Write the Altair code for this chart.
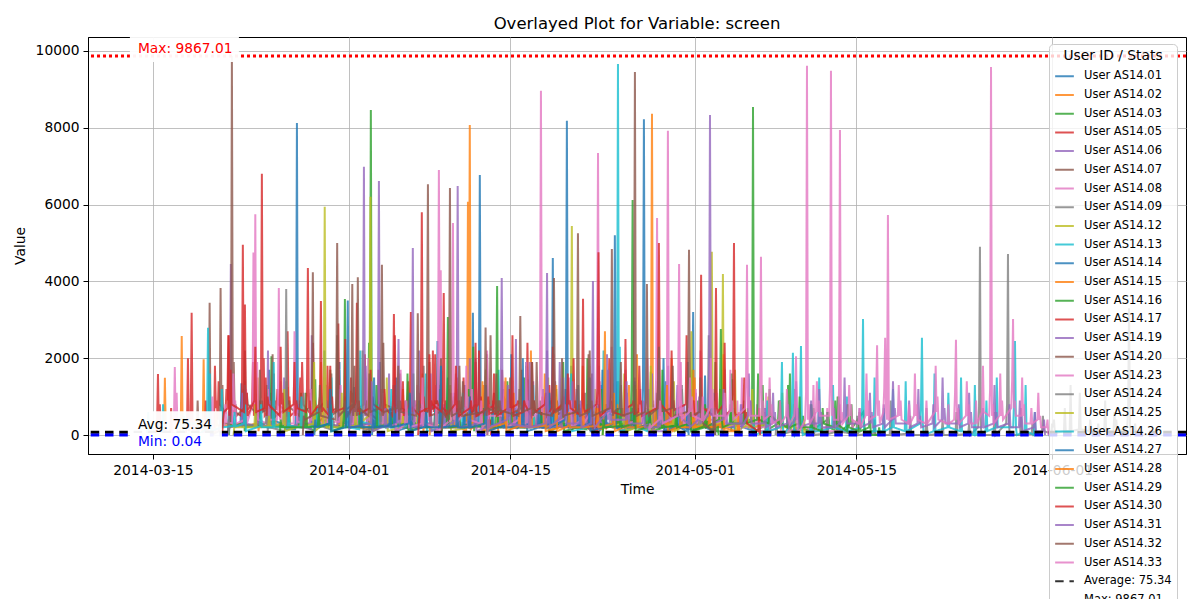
import altair as alt
import pandas as pd

# each user is a list of sample runs: (start day counted from 2014-03-14 00:00 UTC, [values every STEP days])
STEP = 0.08

as14_01 = [(7.5, [0, 620, 180, 300, 240]), (8.6, [300, 1350, 200, 700, 260]), (9.9, [250, 900, 360]),
           (11.0, [200, 1700, 300, 1100, 400]), (12.3, [280, 600, 150]), (13.33, [150, 700, 8120, 350, 400, 250]),
           (14.6, [300, 1100, 240, 500, 220]), (15.8, [460, 2200, 350, 900, 300]), (17.1, [220, 1900, 300]),
           (18.2, [350, 800, 260, 1250, 220]), (19.6, [300, 600, 130]), (20.6, [240, 1900, 240, 700, 380]),
           (22.0, [260, 1500, 160]), (23.2, [300, 1050, 300, 500, 230]), (24.6, [290, 700, 300]),
           (25.6, [290, 2450, 290, 1300, 200]), (27.0, [250, 800, 300]), (28.0, [200, 1300, 300, 400, 250]),
           (28.59, [200, 500, 3180, 200]), (29.8, [250, 1700, 250, 600, 220]), (31.2, [300, 900, 240]),
           (32.0, [260, 2100, 260, 800, 230]), (33.4, [230, 1450, 230]), (34.6, [300, 700, 200, 1200, 250]),
           (36.0, [280, 500, 240]), (37.2, [320, 1800, 120, 600, 200]), (38.6, [250, 800, 260]),
           (39.6, [200, 950, 100, 1300, 280]), (41.2, [180, 1400, 180]), (42.5, [260, 700, 220, 900, 240]),
           (44.6, [220, 1100, 220, 500, 200]), (46.0, [260, 800, 240]), (47.69, [150, 600, 3200, 150]),
           (48.8, [260, 1550, 260, 700, 220]), (50.3, [300, 900, 230]), (51.3, [200, 700, 100, 400, 260]),
           (52.9, [130, 420, 0])]
as14_02 = [(1.88, [0, 100, 1490, 60, 0]), (3.34, [0, 300, 2580, 90, 0]), (4.5, [0, 400, 0]),
           (5.24, [50, 150, 1970, 150, 0]), (6.4, [100, 600, 250]), (7.6, [250, 1100, 200, 600, 300]),
           (8.9, [280, 900, 240]), (10.0, [300, 1500, 100, 400, 200]), (11.5, [260, 750, 200]),
           (12.6, [230, 1250, 280, 900, 220]), (14.2, [300, 600, 220]), (15.5, [300, 1900, 300, 700, 250]),
           (17.0, [240, 800, 260]), (18.1, [240, 1150, 240, 500, 210]), (19.7, [150, 2000, 150]),
           (21.0, [220, 600, 300, 800, 220]), (22.6, [250, 1200, 240]), (24.3, [300, 1600, 100, 500, 200]),
           (26.0, [230, 900, 200]), (27.2, [200, 700, 260]), (28.16, [100, 500, 6070, 900, 8070, 120, 300, 200]),
           (29.6, [200, 1300, 100, 600, 220]), (30.8, [200, 500, 0])]
as14_03 = [(7.6, [0, 600, 240]), (8.8, [300, 1200, 100, 500, 200]), (10.2, [260, 900, 230]),
           (11.2, [200, 2050, 200, 800, 240]), (12.7, [230, 600, 210]), (13.6, [230, 800, 230, 1100, 260]),
           (15.0, [120, 1450, 320]), (16.2, [200, 500, 240, 700, 200]), (17.6, [250, 1000, 220]),
           (18.7, [300, 700, 240]), (19.66, [300, 2400, 600, 8460, 300, 100]), (20.9, [250, 1100, 250, 600, 200]),
           (22.3, [230, 800, 220]), (23.5, [150, 1600, 350, 400, 220]), (25.0, [240, 700, 200]),
           (25.9, [200, 1350, 100, 500, 240]), (27.4, [260, 900, 230]), (28.7, [300, 2300, 100, 700, 220]),
           (30.3, [240, 600, 200]), (31.5, [240, 950, 240, 1400, 260]), (33.3, [200, 1800, 200]),
           (34.7, [220, 700, 240, 500, 200]), (35.9, [200, 1200, 200]), (37.2, [250, 800, 230, 600, 200]),
           (38.6, [150, 2000, 350]), (40.0, [230, 700, 200, 500, 240]), (41.2, [230, 900, 230]),
           (42.8, [280, 1200, 230, 600, 200]), (44.1, [300, 1650, 100]), (45.6, [220, 800, 240, 700, 200]),
           (46.8, [200, 1200, 200]), (48.2, [300, 900, 230, 500, 220]), (49.7, [200, 1900, 200]),
           (51.0, [260, 800, 100, 1450, 300]), (52.88, [400, 900, 8540, 400, 100]), (53.8, [200, 1300, 200, 600, 100]),
           (55.2, [300, 900, 300]), (56.0, [200, 600, 100, 1600, 100]), (57.3, [200, 500, 150]),
           (58.2, [100, 700, 400, 300, 200]), (59.5, [400, 600, 200]), (60.3, [100, 1000, 300, 500, 100]),
           (61.5, [300, 800, 200]), (62.6, [600, 300, 100]), (63.6, [100, 0])]
as14_05 = [(1.2, [0, 100, 300, 1590, 100, 800, 0]), (2.5, [0, 700, 50]),
           (3.8, [0, 100, 300, 2000, 100, 200, 400, 3180, 200, 0]), (5.5, [0, 900, 0]),
           (6.3, [200, 1800, 700, 900, 400, 1400, 800]), (7.3, [600, 1200, 900, 2600, 500, 800, 650]),
           (8.64, [500, 900, 4950, 700, 1400, 600]), (9.6, [800, 1900, 500, 900, 700]),
           (10.29, [600, 1100, 6800, 600, 2000, 500]), (11.4, [750, 1600, 450, 900, 650, 1200, 800]),
           (12.6, [600, 2700, 800, 1000, 500]), (13.7, [700, 1500, 500, 1900, 800]),
           (14.8, [500, 2400, 700, 900, 650]), (15.9, [850, 1300, 450, 1800, 600]),
           (17.0, [700, 2900, 500, 900, 730]), (18.1, [550, 1500, 850, 1100, 600]),
           (19.3, [800, 2100, 500, 800, 600]), (20.5, [400, 1700, 900, 1200, 560]), (21.9, [700, 2600, 800]),
           (22.9, [550, 900, 700, 1400, 650]), (24.0, [800, 1100, 450]), (25.2, [700, 2200, 600, 900, 800]),
           (26.6, [500, 1200, 700]), (27.7, [600, 1000, 540, 1500, 760]), (28.9, [500, 1900, 600]),
           (30.0, [450, 900, 300, 400, 0])]
as14_06 = [(7.52, [0, 300, 800, 4450, 300, 500, 250]), (8.7, [250, 1100, 250, 600, 300]), (10.0, [240, 700, 320]),
           (10.9, [200, 2200, 400, 900, 260]), (12.3, [300, 1500, 200]), (13.5, [260, 800, 300, 600, 220]),
           (14.7, [150, 2600, 350]), (15.9, [230, 900, 250, 700, 300]), (17.0, [240, 1200, 340]),
           (18.2, [300, 700, 280]), (19.14, [500, 1200, 6980, 500, 1800, 300]), (20.44, [300, 900, 6610, 400, 300]),
           (21.4, [300, 1600, 300, 700, 220]), (22.8, [240, 900, 260]), (24.0, [250, 2200, 250, 800, 230]),
           (25.5, [300, 1300, 200]), (26.9, [260, 700, 250, 1100, 300]), (28.4, [200, 2000, 400]),
           (29.7, [260, 1100, 260, 600, 220]), (31.2, [300, 800, 240]), (32.4, [350, 2500, 150, 700, 300]),
           (33.9, [240, 1400, 240]), (35.2, [250, 600, 280, 900, 220]), (36.2, [300, 1900, 300]),
           (37.5, [220, 700, 240, 1200, 250]), (38.9, [300, 800, 200]), (40.3, [200, 2100, 400, 900, 240]),
           (41.8, [230, 600, 300]), (42.7, [200, 1500, 300, 700, 230]), (44.3, [250, 900, 220]),
           (45.6, [350, 1800, 150, 600, 300]), (47.0, [260, 800, 240]), (48.0, [240, 1100, 240, 500, 220]),
           (49.6, [300, 700, 250]), (50.5, [200, 1700, 400, 600, 200]), (52.0, [260, 800, 230]),
           (52.8, [200, 900, 100]), (54.4, [100, 600, 0])]
as14_07 = [(4.8, [0, 900, 50]), (5.76, [50, 200, 3440, 200, 0]), (6.71, [100, 300, 3830, 300, 1300, 300]),
           (7.69, [300, 600, 9867.01, 800, 1900, 600, 800, 500]), (8.9, [700, 2200, 500, 1100, 800]),
           (10.2, [500, 1700, 700, 900, 600]), (11.3, [750, 2100, 450]), (12.5, [680, 1400, 480, 900, 740]),
           (13.7, [500, 900, 640]), (14.71, [700, 1000, 4240, 500, 800, 600]), (15.8, [800, 1500, 400]),
           (16.9, [600, 2600, 700, 900, 550]), (18.4, [800, 1800, 500]), (19.5, [660, 900, 540, 1300, 730]),
           (20.9, [500, 2400, 800]), (22.2, [650, 900, 500, 1600, 700]), (23.6, [540, 900, 700]),
           (24.9, [600, 1900, 500, 800, 730]), (26.3, [550, 900, 720]), (27.3, [500, 1200, 800, 900, 600]),
           (28.7, [740, 900, 560]), (30.2, [600, 2600, 700, 900, 520]), (31.7, [750, 900, 500]),
           (32.9, [650, 1700, 450, 800, 710]), (34.5, [580, 900, 630]), (35.8, [500, 1400, 700, 900, 540]),
           (37.3, [700, 800, 520]), (38.7, [650, 2100, 450, 900, 600]), (40.2, [540, 800, 720]),
           (41.5, [600, 1300, 500, 700, 410]), (43.0, [340, 700, 200]), (44.3, [100, 800, 0])]
as14_08 = [(2.66, [0, 150, 300, 1770, 150, 1100, 0]), (4.5, [0, 400, 0]), (6.0, [100, 500, 1000, 100]),
           (7.2, [250, 800, 340]), (7.9, [300, 1600, 500, 900, 300]), (9.0, [400, 1200, 300]),
           (9.64, [800, 4750, 800, 5750, 600, 1900, 400]), (10.9, [300, 1200, 400]),
           (11.76, [400, 900, 3830, 400, 1400, 300]), (13.2, [300, 2700, 500, 800, 350]), (14.6, [300, 1200, 400]),
           (15.8, [300, 1800, 400, 600, 330]), (17.2, [350, 1300, 250]), (18.4, [300, 700, 340, 900, 300]),
           (19.6, [200, 2000, 400]), (20.9, [300, 1100, 300, 600, 340]), (22.4, [350, 1700, 350]),
           (23.7, [360, 900, 340, 1300, 320]), (24.9, [400, 700, 300]),
           (25.64, [300, 1200, 6900, 1200, 4290, 300, 800, 300]), (27.2, [300, 1600, 400, 500, 300]),
           (28.6, [340, 1200, 200]), (29.4, [200, 500, 0])]
as14_09 = [(7.5, [0, 400, 200]), (8.9, [250, 900, 250]), (10.8, [300, 1300, 100, 500, 200]),
           (12.4, [100, 200, 3800, 200, 200]), (14.0, [200, 1100, 300]), (15.3, [220, 700, 240]),
           (16.4, [150, 1600, 350, 400, 200]), (18.0, [230, 600, 200]), (19.1, [300, 2200, 100]),
           (20.6, [250, 800, 230]), (21.8, [200, 1300, 200, 400, 220]), (23.3, [240, 700, 200]),
           (24.4, [200, 1800, 200]), (25.9, [230, 600, 230]), (27.0, [250, 1000, 250, 700, 200]),
           (28.6, [260, 500, 200]), (29.8, [300, 1500, 100]), (31.4, [240, 800, 200]),
           (32.7, [200, 1200, 200, 500, 230]), (34.3, [250, 700, 200]), (35.7, [150, 1700, 350]),
           (37.2, [240, 600, 240]), (38.4, [200, 1100, 200, 400, 200]), (40.0, [230, 800, 220]),
           (41.3, [300, 1400, 100]), (42.8, [250, 600, 200]), (44.1, [200, 1000, 200, 500, 220]),
           (45.5, [240, 700, 200]), (46.8, [260, 1300, 260]), (48.1, [230, 500, 200]),
           (49.04, [200, 600, 2600, 200, 100]), (50.3, [100, 300, 0])]
as14_12 = [(8.0, [0, 300, 200]), (9.8, [200, 800, 200]), (11.0, [230, 500, 230]), (12.3, [300, 1200, 100]),
           (13.8, [240, 700, 200]), (14.9, [300, 1900, 100]), (15.74, [300, 900, 5940, 300, 200]),
           (17.3, [200, 1100, 200]), (18.5, [240, 600, 220]), (19.71, [500, 1500, 6200, 500, 100]),
           (21.2, [300, 1500, 100]), (22.6, [220, 500, 200]), (23.9, [200, 900, 200]), (25.4, [230, 700, 240]),
           (26.7, [300, 1300, 100]), (28.3, [200, 500, 200]), (29.8, [250, 1700, 250]), (31.5, [220, 600, 200]),
           (32.8, [200, 1000, 200]), (34.0, [240, 500, 200]), (35.2, [300, 1500, 100]), (36.4, [230, 700, 200]),
           (37.17, [300, 900, 5440, 300, 200]), (38.5, [200, 600, 200]), (39.3, [200, 1200, 200]),
           (40.7, [250, 500, 200]), (41.8, [300, 1600, 100]), (43.2, [220, 600, 200]), (44.3, [100, 700, 0])]
as14_13 = [(-0.3, [0, 100, 0]), (0.44, [0, 150, 600, 0]), (1.8, [0, 800, 0]), (3.6, [0, 500, 300]),
           (4.8, [300, 0]), (5.62, [150, 500, 2790, 150, 1600, 100]), (6.9, [200, 1200, 200]), (8.0, [240, 600, 220]),
           (8.9, [300, 1300, 100]), (10.3, [230, 800, 200]), (11.4, [200, 1900, 200]), (12.7, [200, 600, 240]),
           (13.8, [200, 1000, 200]), (15.2, [230, 700, 220]), (16.4, [300, 1500, 100]), (17.8, [240, 600, 200]),
           (18.9, [150, 2200, 350]), (20.4, [230, 800, 200]), (21.6, [200, 1200, 200]), (23.0, [240, 600, 220]),
           (24.6, [300, 1600, 100]), (26.2, [200, 700, 200]), (27.8, [200, 1100, 200]), (29.3, [230, 500, 200]),
           (30.9, [200, 1700, 200]), (32.5, [200, 600, 200]), (33.9, [200, 1300, 200]), (35.6, [240, 700, 200]),
           (37.2, [300, 1600, 100]), (38.7, [200, 600, 220]), (40.0, [700, 2200, 700]),
           (41.17, [400, 1000, 9660, 400, 2300, 100]), (42.9, [200, 800, 200]), (43.9, [100, 1200, 0])]
as14_14 = [(20.0, [0, 400, 200]), (21.9, [300, 1300, 100]), (23.3, [220, 600, 200]), (24.0, [200, 900, 200]),
           (25.4, [240, 700, 230]), (26.5, [200, 1500, 200]), (27.9, [200, 600, 200]),
           (29.19, [300, 1200, 6770, 300, 200]), (30.4, [240, 800, 220]), (31.3, [200, 1200, 200]),
           (32.5, [230, 600, 200]), (33.3, [300, 1900, 100]), (34.7, [220, 700, 200]),
           (35.52, [300, 800, 4610, 300, 200]), (36.9, [240, 600, 200]), (37.8, [200, 1300, 200]),
           (39.0, [230, 700, 230]), (39.9, [150, 1700, 350]), (41.3, [200, 500, 200]), (42.0, [200, 1100, 200]),
           (43.42, [500, 1400, 8220, 500, 200]), (44.6, [250, 700, 220]), (45.4, [300, 1400, 100]),
           (46.7, [230, 600, 200]), (47.3, [200, 1900, 200]), (48.6, [240, 500, 220]), (49.6, [100, 1100, 0])]
as14_15 = [(25.0, [0, 500, 200]), (27.2, [200, 900, 200]), (28.6, [230, 600, 200]), (29.5, [300, 1400, 100]),
           (31.0, [220, 700, 200]), (32.2, [200, 1100, 200]), (33.7, [240, 600, 220]), (34.9, [300, 1600, 100]),
           (36.3, [200, 500, 200]), (37.5, [200, 900, 200]), (39.0, [240, 700, 200]),
           (40.04, [150, 600, 2700, 150, 200]), (41.2, [230, 800, 200]), (42.2, [200, 1300, 200]),
           (43.2, [250, 600, 200]), (44.12, [400, 1600, 8360, 400, 200]), (45.9, [300, 2000, 100]),
           (47.0, [230, 600, 200]), (47.9, [200, 1500, 200]), (49.0, [240, 700, 200]), (50.1, [200, 1200, 200]),
           (51.7, [100, 600, 0])]
as14_16 = [(12.0, [0, 400, 200]), (14.2, [200, 1100, 200]), (15.3, [230, 600, 200]), (16.3, [300, 1700, 100]),
           (17.49, [200, 600, 3540, 200, 200]), (18.9, [220, 700, 200]), (20.3, [200, 1300, 200]),
           (21.6, [240, 600, 220]), (23.0, [300, 1600, 100]), (24.5, [220, 700, 200]), (25.5, [200, 900, 200]),
           (26.42, [200, 800, 3070, 200, 200]), (27.5, [230, 600, 200]), (28.3, [200, 1200, 200]),
           (29.6, [240, 700, 200]), (30.69, [200, 900, 3880, 200, 200]), (32.0, [230, 600, 200]),
           (33.1, [200, 1500, 200]), (34.6, [240, 700, 200]), (36.5, [300, 1900, 100]), (38.1, [220, 600, 200]),
           (39.8, [200, 1200, 200]), (41.2, [230, 700, 200]), (42.44, [400, 1500, 6120, 400, 200]),
           (43.7, [230, 700, 200]), (44.7, [200, 1400, 200]), (46.3, [240, 600, 200]), (47.7, [300, 1700, 100]),
           (49.0, [220, 500, 200]), (49.9, [100, 300, 0])]
as14_17 = [(7.0, [0, 400, 600]), (7.5, [700, 2600, 500, 1700, 800]), (8.9, [600, 3400, 800, 1100, 500]),
           (9.8, [900, 2300, 600]), (10.7, [700, 1500, 500, 1000, 800]), (12.0, [500, 2300, 800, 1100, 600]),
           (13.2, [800, 1900, 500, 900, 700]), (14.28, [600, 1200, 4350, 700, 900, 500]),
           (15.41, [800, 1000, 3490, 600, 700]), (16.3, [500, 1800, 800, 1000, 600]), (17.6, [700, 2500, 500]),
           (18.53, [800, 900, 3440, 600, 900, 550]), (19.8, [700, 1700, 500, 1000, 800]), (21.0, [600, 1200, 700]),
           (21.74, [500, 900, 3150, 800, 600]), (22.6, [700, 1400, 500]), (23.21, [800, 1000, 3200, 600, 700]),
           (24.16, [500, 1300, 5800, 800, 1000, 600]), (25.4, [700, 2100, 500, 900, 800]), (26.8, [550, 1100, 750]),
           (27.3, [600, 1500, 800, 900, 500]), (28.4, [700, 1000, 540]), (29.2, [800, 2200, 600, 1000, 550]),
           (30.5, [760, 1100, 560]), (31.2, [650, 1700, 850, 1000, 600]), (32.6, [800, 900, 550]),
           (33.4, [600, 2400, 700, 900, 730]), (34.7, [540, 1000, 700]), (35.3, [600, 1300, 800, 900, 550]),
           (36.5, [760, 1000, 630]), (37.4, [500, 2000, 700, 900, 600]), (38.6, [440, 600, 300]),
           (39.4, [100, 900, 0])]
as14_19 = [(18.0, [0, 500, 200]), (19.9, [300, 1400, 100]), (21.1, [230, 700, 200]),
           (22.14, [300, 900, 2500, 300, 200]), (23.38, [400, 1100, 4870, 400, 200]), (24.2, [240, 700, 200]),
           (25.0, [300, 1600, 100]), (26.2, [230, 800, 200]), (27.27, [400, 1200, 6480, 400, 200]),
           (28.3, [230, 700, 200]), (28.9, [300, 2000, 100]), (30.0, [220, 600, 200]),
           (31.09, [300, 1000, 4090, 300, 200]), (32.3, [240, 700, 200]), (33.0, [250, 1500, 250]),
           (34.2, [230, 600, 200]), (35.1, [200, 2200, 200]), (36.3, [240, 700, 200]), (37.3, [200, 1400, 200]),
           (38.5, [230, 600, 200]), (39.6, [150, 1800, 350]), (40.8, [220, 700, 200]), (41.9, [200, 1200, 200]),
           (43.1, [230, 600, 200]), (44.2, [300, 1600, 100]), (45.3, [100, 300, 0])]
as14_20 = [(14.0, [0, 500, 400]), (15.4, [600, 1300, 500]), (16.82, [400, 1000, 5000, 700, 500]),
           (17.6, [650, 900, 450]), (18.13, [600, 800, 3930, 500, 900, 600, 800, 500, 4110, 700]),
           (19.7, [500, 1600, 600]), (20.7, [700, 900, 4430, 500, 600]), (22.2, [700, 1800, 400, 900, 600]),
           (23.81, [500, 700, 3170, 600, 800]), (24.69, [500, 1500, 6530, 700, 500]), (25.9, [600, 2000, 700]),
           (26.9, [530, 900, 600]), (27.8, [700, 1400, 500]), (28.9, [640, 800, 500]), (29.9, [550, 2100, 650]),
           (31.0, [730, 900, 500]), (31.9, [650, 1500, 550]), (33.1, [720, 900, 500]), (34.2, [600, 1900, 700]),
           (35.5, [540, 900, 600]), (36.7, [700, 1200, 500]), (37.9, [630, 800, 400]), (39.0, [100, 1600, 0])]
as14_23 = [(22.0, [0, 300, 100]), (22.9, [300, 900, 300, 500, 200]), (24.3, [300, 1500, 200, 600, 300]),
           (25.5, [200, 800, 100]), (26.86, [400, 1200, 5520, 400, 900, 300]), (28.1, [600, 1800, 600, 1000, 400]),
           (29.4, [300, 900, 200]), (29.9, [300, 2200, 300, 800, 500]), (31.4, [500, 1400, 500, 700, 200]),
           (32.7, [400, 800, 300]), (33.3, [300, 1900, 300, 900, 400]), (34.49, [600, 1500, 8960, 600, 1200, 300]),
           (35.7, [700, 2100, 700, 1000, 300]), (37.0, [500, 1500, 500, 900, 200]), (38.2, [400, 1100, 300]),
           (39.44, [800, 2000, 7340, 800, 1400, 500]), (40.7, [600, 2300, 600, 900, 400]),
           (41.9, [400, 1700, 400, 1000, 300]), (43.2, [400, 1200, 300]), (43.8, [700, 2000, 700]),
           (44.56, [700, 1500, 5650, 700, 1100, 500]), (45.5, [600, 1600, 7920, 600, 1000, 400]),
           (46.7, [500, 1900, 500, 800, 300]), (48.0, [400, 1200, 300]), (48.4, [500, 2200, 500, 900, 400]),
           (49.8, [400, 1100, 300]), (50.3, [400, 1700, 400, 800, 200]), (51.6, [300, 900, 200]),
           (52.0, [300, 1500, 300, 700, 200]), (53.3, [200, 800, 200]), (54.1, [200, 1100, 200, 500, 100]),
           (55.3, [200, 700, 100]), (56.0, [100, 900, 100]), (57.0, [200, 600, 300]),
           (58.2, [100, 1300, 100, 600, 100]), (59.4, [200, 700, 100]), (60.5, [100, 800, 100]),
           (61.6, [100, 400, 0])]
as14_24 = [(55.0, [0, 300, 0]), (56.6, [100, 1200, 100]), (58.2, [0, 500, 0]), (59.4, [50, 600, 30]),
           (60.4, [100, 1000, 100]), (62.0, [0, 500, 0]), (63.5, [40, 400, 0]), (64.9, [0, 900, 0]),
           (66.6, [40, 500, 0]), (68.0, [0, 700, 0]), (69.4, [30, 400, 0]), (70.6, [0, 600, 0]),
           (71.7, [40, 300, 0]), (72.56, [200, 700, 4900, 200, 0]), (73.9, [0, 600, 0]),
           (74.99, [300, 800, 4710, 300, 0]), (76.2, [0, 700, 0]), (77.2, [30, 300, 0]), (78.1, [100, 500, 100]),
           (78.9, [50, 300, 200, 400, 50]), (80.0, [100, 700, 100]), (80.5, [100, 1300, 100]),
           (81.3, [150, 1100, 150]), (82.2, [100, 400, 150]), (82.9, [100, 300, 50]), (83.5, [100, 900, 100]),
           (84.3, [100, 600, 200, 400, 100]), (85.49, [200, 700, 3300, 200, 0]), (86.1, [100, 300, 0])]
as14_25 = [(40.0, [0, 400, 200]), (41.9, [300, 1200, 100]), (43.1, [230, 600, 200]), (44.1, [200, 1800, 200]),
           (45.2, [230, 700, 200]), (46.1, [300, 1400, 100]), (47.54, [300, 900, 2700, 300, 200]),
           (48.4, [250, 800, 250]), (49.31, [500, 1200, 4770, 500, 900, 300]), (50.27, [300, 1000, 4190, 300, 200]),
           (51.4, [300, 1700, 100]), (52.5, [250, 700, 200]), (52.9, [200, 1200, 200]), (54.3, [300, 1000, 600]),
           (55.5, [200, 1100, 200]), (56.5, [200, 800, 200]), (57.4, [100, 400, 0])]
as14_26 = [(53.0, [0, 300, 0]), (54.2, [100, 900, 100]), (55.39, [200, 600, 1900, 200, 0]),
           (56.34, [300, 700, 2140, 300, 0]), (57.04, [200, 800, 2320, 200, 0]), (58.0, [100, 800, 100]),
           (58.7, [100, 1500, 100]), (59.9, [200, 1300, 200]), (61.1, [100, 1000, 100]),
           (62.42, [200, 700, 3020, 200, 0]), (63.5, [100, 1500, 100]), (64.3, [100, 700, 100]),
           (65.1, [200, 1200, 200]), (66.2, [100, 1400, 100]), (67.53, [300, 800, 2530, 300, 0]),
           (68.7, [100, 1600, 100]), (69.9, [200, 1100, 200]), (71.0, [100, 1500, 100]), (72.2, [0, 1300, 0]),
           (73.2, [100, 900, 100]), (74.1, [200, 1500, 200]), (75.6, [200, 900, 2450, 200, 0]),
           (76.6, [100, 1300, 100]), (77.4, [0, 600, 0])]
as14_27 = [(15.0, [0, 400, 200]), (16.3, [300, 1200, 100]), (17.74, [200, 800, 3500, 200, 200]),
           (19.0, [230, 600, 200]), (20.1, [200, 1500, 200]), (21.5, [240, 700, 200]), (23.2, [300, 1100, 100]),
           (24.6, [220, 600, 200]), (25.9, [200, 1800, 200]), (27.3, [240, 700, 200]), (28.4, [200, 1000, 200]),
           (29.8, [300, 1300, 100]), (31.3, [230, 600, 200]), (33.0, [200, 2000, 200]), (34.4, [230, 700, 200]),
           (35.3, [200, 1100, 200]), (36.74, [400, 1200, 8180, 400, 200]), (38.0, [230, 700, 200]),
           (38.8, [300, 1500, 100]), (40.2, [230, 600, 200]), (40.9, [300, 900, 5200, 300, 200]),
           (42.0, [230, 700, 200]), (42.7, [200, 1400, 200]), (44.0, [240, 600, 200]), (45.2, [300, 2000, 100]),
           (46.5, [230, 700, 200]), (47.3, [100, 900, 0])]
as14_28 = [(30.0, [0, 400, 200]), (31.5, [300, 1500, 100]), (32.7, [230, 600, 200]), (33.7, [200, 2200, 200]),
           (34.9, [240, 700, 200]), (35.9, [300, 1300, 100]), (37.0, [230, 600, 200]), (38.2, [200, 1800, 200]),
           (39.5, [240, 700, 200]), (40.9, [300, 1100, 100]), (42.0, [230, 600, 200]), (42.9, [200, 2100, 200]),
           (44.5, [240, 700, 200]), (45.5, [300, 1300, 100]), (46.7, [230, 600, 200]), (47.8, [200, 1700, 200]),
           (49.2, [240, 800, 200]), (50.4, [300, 2100, 100]), (51.7, [100, 500, 0])]
as14_29 = [(40.0, [0, 400, 200]), (41.5, [230, 700, 200]), (42.7, [300, 1300, 100]), (44.0, [230, 600, 200]),
           (45.1, [200, 1700, 200]), (46.3, [240, 700, 200]), (47.5, [300, 1200, 100]), (48.8, [230, 800, 200]),
           (50.09, [400, 1000, 2760, 400, 200]), (51.1, [300, 1600, 300]), (52.2, [300, 900, 300]),
           (53.4, [400, 1600, 400]), (54.4, [300, 1200, 500]), (55.3, [300, 900, 300]), (56.0, [200, 1300, 200]),
           (57.0, [300, 1000, 200]), (58.0, [200, 800, 200]), (59.0, [100, 700, 300]), (60.1, [200, 900, 300]),
           (61.2, [100, 800, 200]), (62.2, [100, 600, 100]), (63.1, [200, 500, 0]), (63.9, [0, 200, 0])]
as14_30 = [(24.0, [0, 400, 600]), (24.9, [700, 2100, 500, 900, 800]), (26.06, [600, 1000, 3700, 700, 500]),
           (27.2, [800, 1800, 600, 900, 500]), (28.5, [700, 900, 600]), (28.9, [800, 2400, 500]),
           (30.0, [700, 1000, 550]), (30.5, [600, 1600, 800, 900, 500]), (31.8, [700, 1200, 600]),
           (32.1, [800, 2600, 500]), (33.1, [600, 900, 800]), (33.8, [500, 1900, 700, 900, 600]),
           (35.0, [800, 1100, 500]), (35.6, [700, 2300, 600]), (36.5, [800, 1000, 500]),
           (36.9, [600, 1600, 800, 900, 700]), (38.14, [500, 900, 3550, 700, 600]),
           (39.48, [800, 1200, 4760, 600, 500]), (40.5, [700, 2000, 800, 900, 600]), (41.9, [500, 2500, 700]),
           (42.6, [800, 900, 550]), (43.1, [600, 1800, 800, 900, 500]), (44.72, [700, 1300, 5000, 600, 800]),
           (45.9, [500, 2200, 700, 900, 650]), (47.2, [800, 2600, 600]), (47.8, [700, 900, 500]),
           (48.38, [600, 1100, 4170, 800, 700]), (49.67, [500, 800, 3830, 700, 600]), (50.5, [800, 2400, 500]),
           (51.23, [700, 1200, 5000, 600, 500]), (52.2, [600, 1500, 400, 600, 300]), (53.5, [100, 700, 0])]
as14_31 = [(30.0, [0, 400, 200]), (31.7, [400, 1300, 400, 700, 300]), (33.6, [200, 1900, 200]),
           (35.02, [300, 1000, 4220, 300, 600, 200]), (36.5, [500, 1500, 500, 800, 300]), (38.0, [300, 900, 200]),
           (39.0, [300, 1100, 4010, 300, 200]), (40.4, [600, 1700, 600, 900, 400]),
           (42.0, [400, 1400, 400, 700, 300]), (43.5, [300, 900, 200]), (44.8, [200, 2000, 200, 800, 300]),
           (46.4, [500, 1300, 500]), (47.4, [300, 700, 200]), (48.3, [400, 1000, 300]),
           (49.15, [500, 1500, 8330, 500, 900, 300]), (50.4, [400, 1200, 400, 700, 300]), (51.9, [300, 800, 200]),
           (52.6, [500, 1600, 500, 900, 300]), (54.0, [300, 700, 200]), (54.7, [300, 1100, 300, 600, 200]),
           (56.0, [300, 800, 200]), (56.7, [400, 1400, 400, 700, 200]), (58.0, [300, 900, 300]),
           (58.7, [300, 1200, 300, 600, 200]), (60.0, [200, 700, 200]), (60.9, [400, 1500, 400, 800, 300]),
           (62.2, [300, 700, 200]), (63.1, [300, 1100, 300, 600, 200]), (64.3, [300, 800, 200]),
           (65.1, [400, 1400, 400, 700, 300]), (66.5, [300, 900, 200]), (67.3, [300, 1200, 300, 500, 200]),
           (68.6, [300, 800, 200]), (69.4, [400, 1500, 400, 700, 300]), (70.8, [300, 800, 200]),
           (71.7, [300, 1100, 300, 600, 200]), (72.9, [200, 700, 200]), (73.9, [300, 1300, 300, 600, 200]),
           (75.2, [300, 800, 200]), (76.1, [200, 900, 200, 500, 100]), (77.4, [200, 600, 100]), (78.2, [100, 400, 0])]
as14_32 = [(26.0, [0, 300, 600]), (26.6, [400, 1000, 6430, 700, 500]), (27.5, [600, 1800, 700, 900, 500]),
           (29.69, [600, 700, 2800, 500, 700]), (30.7, [600, 1600, 500, 900, 650]),
           (32.7, [500, 900, 3100, 700, 600]), (33.8, [700, 1900, 500, 900, 600]),
           (35.62, [500, 1000, 4090, 700, 600]), (36.4, [700, 2000, 500]), (37.7, [600, 1300, 5250, 700, 500]),
           (38.8, [600, 2200, 700, 900, 500]), (40.64, [700, 1100, 4840, 500, 600]), (41.5, [700, 1900, 500]),
           (42.64, [600, 1500, 9450, 700, 500]), (43.68, [600, 900, 3930, 700, 500]),
           (44.8, [700, 2300, 500, 900, 600]), (46.0, [700, 1800, 500]), (47.33, [600, 1200, 4820, 700, 500]),
           (48.4, [600, 1500, 400, 700, 300]), (49.6, [100, 700, 0])]
as14_33 = [(44.0, [0, 300, 200]), (44.9, [400, 900, 400, 600, 300]), (46.47, [500, 1300, 4450, 500, 900, 400]),
           (47.5, [600, 1500, 600, 1000, 500]), (48.6, [400, 1000, 400]), (49.3, [700, 2000, 700, 1200, 500]),
           (50.5, [500, 1100, 400]), (51.0, [600, 1700, 600, 900, 400]), (52.36, [700, 1500, 4430, 700, 1000, 500]),
           (53.57, [500, 1400, 4640, 500, 900, 400]), (54.4, [500, 1500, 500, 800, 300]), (55.3, [400, 900, 300]),
           (55.9, [500, 1200, 500, 400, 300]), (56.61, [500, 900, 2050, 500, 0]),
           (57.56, [400, 1100, 9610, 400, 800, 300]), (58.5, [600, 1400, 600, 900, 500]),
           (59.64, [500, 1300, 9480, 500, 900, 400]), (60.42, [400, 1200, 7940, 400, 600, 300]),
           (61.3, [500, 1300, 500, 800, 400]), (62.2, [300, 700, 200]), (62.8, [500, 1600, 500, 900, 400]),
           (63.64, [500, 1000, 2340, 500, 900, 300]), (64.34, [600, 1200, 2530, 600, 400, 5730, 400]),
           (65.6, [500, 1300, 500, 900, 400]), (66.5, [300, 800, 300]), (67.0, [500, 1600, 500, 800, 400]),
           (68.0, [300, 900, 300]), (68.8, [600, 1800, 600, 1000, 400]), (69.9, [300, 800, 300]),
           (70.48, [400, 1100, 2480, 400, 700, 300]), (71.5, [500, 1400, 500, 800, 300]), (72.3, [300, 900, 300]),
           (72.9, [600, 1800, 600]), (73.52, [500, 1200, 9580, 500, 800, 300]), (74.4, [500, 1600, 500, 900, 400]),
           (75.43, [700, 1400, 3020, 700, 900, 500]), (76.3, [500, 1500, 500, 800, 300]), (77.1, [300, 700, 300]),
           (77.7, [400, 1100, 400, 500, 200]), (78.5, [200, 400, 0])]

users = ["AS14.01", "AS14.02", "AS14.03", "AS14.05", "AS14.06", "AS14.07", "AS14.08", "AS14.09", "AS14.12",
         "AS14.13", "AS14.14", "AS14.15", "AS14.16", "AS14.17", "AS14.19", "AS14.20", "AS14.23", "AS14.24",
         "AS14.25", "AS14.26", "AS14.27", "AS14.28", "AS14.29", "AS14.30", "AS14.31", "AS14.32", "AS14.33"]
user_runs = [as14_01, as14_02, as14_03, as14_05, as14_06, as14_07, as14_08, as14_09, as14_12, as14_13, as14_14,
             as14_15, as14_16, as14_17, as14_19, as14_20, as14_23, as14_24, as14_25, as14_26, as14_27, as14_28,
             as14_29, as14_30, as14_31, as14_32, as14_33]

avg_value = 75.34
max_value = 9867.01
min_value = 0.04

x_ticks = ["2014-03-15", "2014-04-01", "2014-04-15", "2014-05-01", "2014-05-15", "2014-06-01"]
y_ticks = [0, 2000, 4000, 6000, 8000, 10000]

tab10 = ["#1f77b4", "#ff7f0e", "#2ca02c", "#d62728", "#9467bd",
         "#8c564b", "#e377c2", "#7f7f7f", "#bcbd22", "#17becf"]

FONT = "DejaVu Sans"
DAY_MS = 86400000
base_ms = pd.Timestamp("2014-03-14", tz="UTC").value // 10**6

rows = []
for uid, runs in zip(users, user_runs):
    for start, vals in runs:
        for i, v in enumerate(vals):
            rows.append({"series": "User " + uid, "t": base_ms + (start + i * STEP) * DAY_MS, "value": v})
df = pd.DataFrame(rows)

avg_name = "Average: %.2f" % avg_value
max_name = "Max: %.2f" % max_value
min_name = "Min: %.2f" % min_value
names = ["User " + u for u in users] + [avg_name, max_name, min_name]
colors = [tab10[i % 10] for i in range(len(users))] + ["black", "red", "blue"]
dashes = [[1, 0]] * len(users) + [[8.5, 5.8], [3, 3], [8.5, 5.8]]

# matplotlib style 5% margins around the data
t_min, t_max = df["t"].min(), df["t"].max()
v_min, v_max = df["value"].min(), df["value"].max()
x_dom = [t_min - 0.05 * (t_max - t_min), t_max + 0.05 * (t_max - t_min)]
y_dom = [v_min - 0.05 * (v_max - v_min), v_max + 0.05 * (v_max - v_min)]
tick_ms = [pd.Timestamp(s, tz="UTC").value // 10**6 for s in x_ticks]

legend = alt.Legend(
    title="User ID / Stats", orient="none", legendX=961, legendY=7,
    symbolType="stroke", symbolSize=350, symbolStrokeWidth=2, symbolLimit=50,
    labelFont=FONT, labelFontSize=11.5, labelColor="black", labelOffset=9,
    titleFont=FONT, titleFontSize=13.8, titleFontWeight="normal", titleColor="black",
    titleAnchor="middle", titlePadding=3, rowPadding=2.7,
    fillColor="rgba(255,255,255,0.8)", strokeColor="#cccccc", cornerRadius=4, padding=5,
)
color = alt.Color("series:N", scale=alt.Scale(domain=names, range=colors), legend=legend)
dash = alt.StrokeDash("series:N", scale=alt.Scale(domain=names, range=dashes), legend=legend)

x_enc = alt.X("t:T", scale=alt.Scale(type="utc", domain=x_dom),
              axis=alt.Axis(values=tick_ms, labelExpr="utcFormat(datum.value, '%Y-%m-%d')",
                            title="Time", titlePadding=6, labelPadding=4))
y_enc = alt.Y("value:Q", scale=alt.Scale(domain=y_dom, nice=False, zero=False),
              axis=alt.Axis(values=y_ticks, format="d", title="Value", titlePadding=8, labelPadding=4))

lines = alt.Chart(df).mark_line(strokeWidth=2, opacity=0.8, clip=True).encode(
    x=x_enc, y=y_enc, color=color, strokeDash=dash, detail="series:N")

stats = pd.DataFrame({"series": [avg_name, max_name, min_name], "value": [avg_value, max_value, min_value]})
rules = alt.Chart(stats).mark_rule().encode(
    y="value:Q", color=color, strokeDash=dash,
    strokeWidth=alt.StrokeWidth("series:N", scale=alt.Scale(domain=[avg_name, max_name, min_name],
                                                            range=[3, 3, 2]), legend=None))

# text boxes anchored at the first timestamp, like ax.text with a white bbox
notes = [("Max: %.2f" % max_value, max_value, "red", "bottom", 101, -21, 6),
         ("Avg: %.2f" % avg_value, avg_value, "black", "bottom", 84, -21, 5),
         ("Min: %.2f" % min_value, min_value, "blue", "top", 72, -2, 19)]
boxes, texts = [], []
for label, val, col, base, w, top, bottom in notes:
    nd = pd.DataFrame({"t": [t_min], "t2": [t_min], "value": [val], "value2": [val], "label": [label]})
    boxes.append(alt.Chart(nd).mark_rect(color="white", opacity=0.95, xOffset=-8, x2Offset=w,
                                         yOffset=top, y2Offset=bottom).encode(
        x="t:T", x2="t2", y="value:Q", y2="value2"))
    texts.append(alt.Chart(nd).mark_text(align="left", baseline=base, font=FONT, fontSize=13.8, color=col).encode(
        x="t:T", y="value:Q", text="label:N"))

chart = alt.layer(lines, rules, *boxes, *texts).properties(
    width=1098, height=417,
    title=alt.Title("Overlayed Plot for Variable: screen", font=FONT, fontSize=16.5, fontWeight="normal",
                    color="black", offset=2),
    padding={"left": 80, "top": 29, "right": 6, "bottom": 145},
    autosize=alt.AutoSizeParams(type="none"),
).configure_view(stroke="black", strokeWidth=1).configure_axis(
    domainColor="black", domainWidth=1, tickColor="black", tickSize=5, tickWidth=1,
    labelFont=FONT, labelFontSize=13.8, labelColor="black",
    titleFont=FONT, titleFontSize=13.8, titleFontWeight="normal", titleColor="black",
    grid=True, gridColor="#b0b0b0", gridWidth=0.8,
)

chart.save("out.html", embed_options={"renderer": "svg", "actions": False})
